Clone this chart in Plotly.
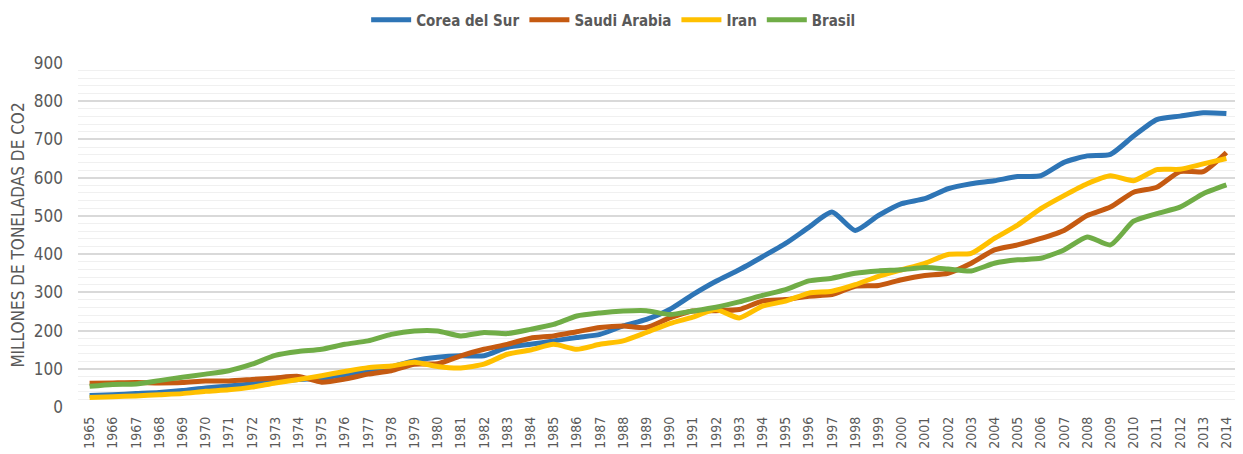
import plotly.graph_objects as go

years = [str(y) for y in range(1965, 2015)]

corea = [30, 32, 35, 38, 43, 50, 55, 60, 66, 72,
         75, 85, 95, 105, 121, 130, 134, 134, 156, 164,
         173, 182, 190, 212, 229, 255, 294, 329, 359, 393,
         428, 470, 510, 462, 501, 532, 545, 571, 584, 592,
         603, 605, 640, 657, 661, 709, 752, 761, 770, 768]

saudi = [62, 63, 64, 63, 64, 68, 68, 72, 76, 80,
         65, 73, 86, 95, 112, 113, 134, 151, 164, 180,
         186, 197, 208, 212, 208, 233, 251, 252, 255, 277,
         281, 290, 294, 316, 318, 333, 344, 350, 376, 411,
         424, 441, 462, 501, 523, 562, 575, 616, 616, 666]

iran = [25, 27, 29, 32, 35, 41, 45, 52, 63, 72,
        82, 93, 103, 107, 117, 106, 102, 112, 138, 149,
        164, 151, 164, 173, 195, 218, 235, 255, 233, 264,
        277, 298, 303, 320, 342, 359, 376, 399, 402, 441,
        476, 519, 553, 584, 605, 592, 621, 622, 636, 650]

brasil = [54, 59, 60, 69, 78, 86, 95, 112, 135, 145,
          151, 164, 173, 190, 199, 199, 186, 195, 192, 203,
          216, 238, 246, 251, 252, 242, 251, 261, 275, 292,
          307, 330, 337, 350, 356, 359, 365, 361, 356, 376,
          385, 389, 411, 445, 424, 486, 506, 523, 558, 581]

series = [
    ("Corea del Sur", corea, "#2E75B6"),
    ("Saudi Arabia", saudi, "#C55A11"),
    ("Iran", iran, "#FFC000"),
    ("Brasil", brasil, "#70AD47"),
]

FONT = "Liberation Sans Narrow, Arial Narrow, DejaVu Sans Condensed, sans-serif"
GREY = "#595959"

fig = go.Figure()
for name, vals, color in series:
    fig.add_trace(go.Scatter(
        x=years, y=vals, name=name, mode="lines",
        line=dict(color=color, width=5, shape="spline", smoothing=0.6),
    ))

# page body has an 8px default margin, so the figure is 16px smaller
fig.update_layout(
    width=1235, height=446,
    margin=dict(l=70, r=5, t=55, b=44),
    paper_bgcolor="white", plot_bgcolor="white",
    font=dict(family=FONT, color=GREY),
    showlegend=True,
    legend=dict(
        orientation="h", xref="container", x=0.49, xanchor="center",
        yref="container", y=0.973, yanchor="middle",
        font=dict(family=FONT, size=15, color=GREY, weight="bold"),
        itemwidth=40, tracegroupgap=0,
    ),
    xaxis=dict(
        type="category", range=[-0.5, 49.5],
        tickangle=-90, tickfont=dict(size=14, color=GREY),
        ticklabelstandoff=6,
        showgrid=False, showline=False, ticks="", zeroline=False,
    ),
    yaxis=dict(
        range=[0, 900], dtick=100, tick0=0,
        tickfont=dict(size=17, color=GREY),
        ticklabelstandoff=14,
        title=dict(text="MILLONES DE TONELADAS DE CO2",
                   font=dict(size=17, color=GREY), standoff=4),
        showgrid=True, gridcolor="#D9D9D9", gridwidth=1.5,
        minor=dict(dtick=20, showgrid=True, gridcolor="#F0F0F0", gridwidth=1),
        zeroline=False, showline=False, ticks="",
    ),
)

fig.write_html("out.html")
